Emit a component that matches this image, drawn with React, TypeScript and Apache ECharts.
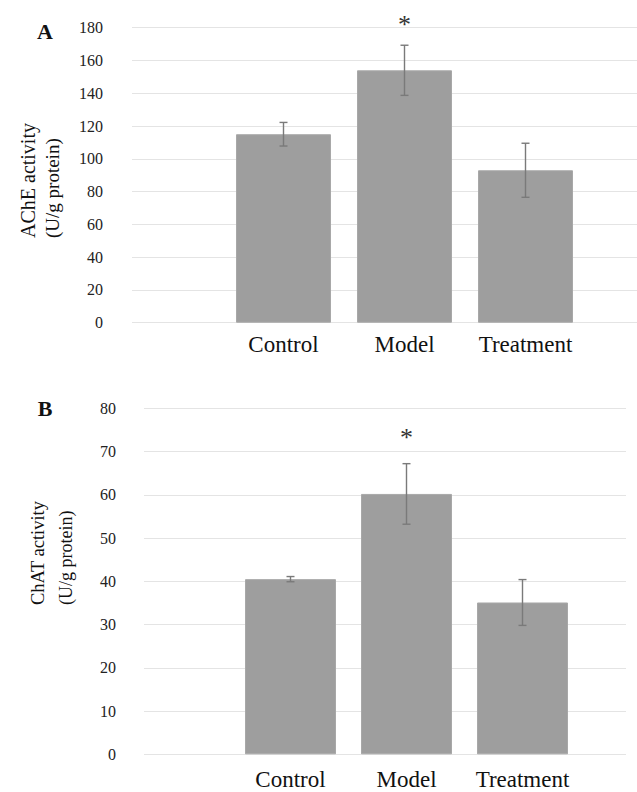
import React, { useEffect, useRef } from "react";
import * as echarts from "echarts";

const categories = ["Control", "Model", "Treatment"];
const acheMean = [115, 154, 93];
const acheErr = [7.2, 15.3, 16.5];
const chatMean = [40.5, 60.2, 35.1];
const chatErr = [0.6, 7.0, 5.3];
const acheTicks = { min: 0, max: 180, interval: 20 };
const chatTicks = { min: 0, max: 80, interval: 10 };
const acheStar = [{ idx: 1, level: 185 }];
const chatStar = [{ idx: 1, level: 74.5 }];

const SERIF = "Times New Roman, Liberation Serif, serif";
const BAR = "#9e9e9e";
const ERR = "#7a7a7a";
const GRIDC = "#e4e4e4";

function errData(mean: number[], err: number[]) {
  return mean.map((m, i) => [i, m - err[i], m + err[i]]);
}

function errSeries(xi: number, yi: number, data: number[][]) {
  return {
    type: "custom",
    xAxisIndex: xi,
    yAxisIndex: yi,
    z: 5,
    data,
    renderItem: (params: any, api: any) => {
      const x = api.value(0);
      const lo = api.coord([x, api.value(1)]);
      const hi = api.coord([x, api.value(2)]);
      const w = 4;
      const style = { stroke: ERR, lineWidth: 1.4 };
      return {
        type: "group",
        children: [
          { type: "line", shape: { x1: hi[0], y1: hi[1], x2: lo[0], y2: lo[1] }, style },
          { type: "line", shape: { x1: hi[0] - w, y1: hi[1], x2: hi[0] + w, y2: hi[1] }, style },
          { type: "line", shape: { x1: lo[0] - w, y1: lo[1], x2: lo[0] + w, y2: lo[1] }, style },
        ],
      };
    },
  };
}

function starSeries(xi: number, yi: number, stars: { idx: number; level: number }[]) {
  return {
    type: "custom",
    xAxisIndex: xi,
    yAxisIndex: yi,
    clip: false,
    z: 6,
    data: stars.map((s) => [s.idx, s.level]),
    renderItem: (params: any, api: any) => {
      const p = api.coord([api.value(0), api.value(1)]);
      return {
        type: "text",
        x: p[0],
        y: p[1] + 5,
        style: {
          text: "*",
          fill: "#333",
          fontFamily: SERIF,
          fontSize: 26,
          align: "center",
          verticalAlign: "middle",
        },
      };
    },
  };
}

function gtext(text: string, x: number, y: number, size: number, rotate: boolean, bold = false) {
  return {
    type: "text",
    x,
    y,
    rotation: rotate ? Math.PI / 2 : 0,
    style: {
      text,
      fontFamily: SERIF,
      fontSize: size,
      fontWeight: bold ? "bold" : "normal",
      fill: "#111",
      align: rotate ? "left" : "center",
      verticalAlign: "middle",
    },
  };
}

export default function App() {
  const ref = useRef<HTMLDivElement>(null);
  useEffect(() => {
    if (!ref.current) return;
    const chart = echarts.init(ref.current, undefined, { renderer: "svg" });
    const yLabel = { fontFamily: SERIF, fontSize: 16, color: "#222" };
    const xLabel = { fontFamily: SERIF, fontSize: 23, color: "#111", interval: 0 };
    const option: any = {
      animation: false,
      backgroundColor: "#fff",
      textStyle: { fontFamily: SERIF },
      grid: [
        { left: 132, top: 27.7, width: 505, height: 295 },
        { left: 223, top: 27.7, width: 363, height: 295 },
        { left: 144, top: 408.3, width: 482, height: 346 },
        { left: 232.5, top: 408.3, width: 348, height: 346 },
      ],
      xAxis: [
        { type: "category", gridIndex: 0, data: categories, show: false },
        {
          type: "category",
          gridIndex: 1,
          data: categories,
          axisLine: { show: false },
          axisTick: { show: false },
          axisLabel: { ...xLabel, margin: 10 },
        },
        { type: "category", gridIndex: 2, data: categories, show: false },
        {
          type: "category",
          gridIndex: 3,
          data: categories,
          axisLine: { show: false },
          axisTick: { show: false },
          axisLabel: { ...xLabel, margin: 14 },
        },
      ],
      yAxis: [
        {
          type: "value",
          gridIndex: 0,
          ...acheTicks,
          axisLine: { show: false },
          axisTick: { show: false },
          axisLabel: { ...yLabel, margin: 29 },
          splitLine: { lineStyle: { color: GRIDC, width: 1 } },
        },
        { type: "value", gridIndex: 1, ...acheTicks, show: false, splitLine: { show: false } },
        {
          type: "value",
          gridIndex: 2,
          ...chatTicks,
          axisLine: { show: false },
          axisTick: { show: false },
          axisLabel: { ...yLabel, margin: 28 },
          splitLine: { lineStyle: { color: GRIDC, width: 1 } },
        },
        { type: "value", gridIndex: 3, ...chatTicks, show: false, splitLine: { show: false } },
      ],
      series: [
        {
          type: "bar",
          xAxisIndex: 1,
          yAxisIndex: 1,
          data: acheMean,
          barWidth: 95,
          itemStyle: { color: BAR, borderColor: "#a8a8a8", borderWidth: 1 },
        },
        errSeries(1, 1, errData(acheMean, acheErr)),
        starSeries(1, 1, acheStar),
        {
          type: "bar",
          xAxisIndex: 3,
          yAxisIndex: 3,
          data: chatMean,
          barWidth: 91,
          itemStyle: { color: BAR, borderColor: "#a8a8a8", borderWidth: 1 },
        },
        errSeries(3, 3, errData(chatMean, chatErr)),
        starSeries(3, 3, chatStar),
      ],
      graphic: [
        gtext("A", 45, 31.5, 22, false, true),
        gtext("B", 45, 408, 22, false, true),
        gtext("AChE activity", 28, 238, 20, true),
        gtext("(U/g protein)", 52, 238, 19, true),
        gtext("ChAT activity", 38, 605, 18.5, true),
        gtext("(U/g protein)", 66, 605, 18, true),
      ],
    };
    chart.setOption(option);
    return () => chart.dispose();
  }, []);
  return (
    <div
      ref={ref}
      style={{ position: "absolute", left: 0, top: 0, width: 637, height: 792, background: "#fff" }}
    />
  );
}
